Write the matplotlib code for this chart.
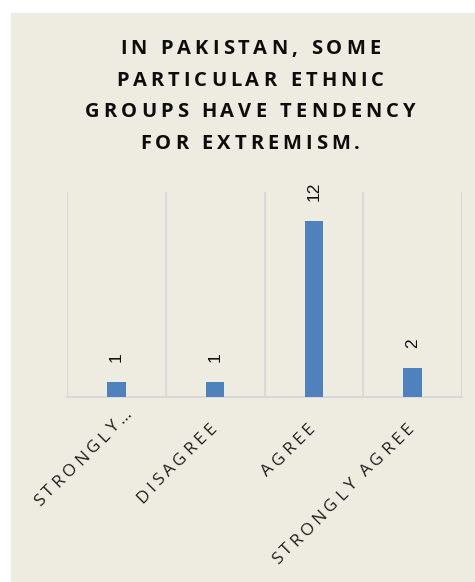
import matplotlib
matplotlib.use('Agg')
import matplotlib.pyplot as plt
from matplotlib.font_manager import FontProperties, findfont, get_font
from matplotlib.patches import Rectangle
from matplotlib.transforms import IdentityTransform
import numpy as np

# data
categories = ['STRONGLY\u2026', 'DISAGREE', 'AGREE', 'STRONGLY AGREE']
counts = [1, 1, 12, 2]
title_lines = ['IN PAKISTAN, SOME',
               'PARTICULAR ETHNIC',
               'GROUPS HAVE TENDENCY',
               'FOR EXTREMISM.']

W, H, DPI = 475, 582, 100
BG = '#EEEBE0'
BAR = '#4F81BD'
GRID = '#D9D9D9'

fig = plt.figure(figsize=(W / DPI, H / DPI), dpi=DPI, facecolor='white')
fig.patches.append(Rectangle((11 / W, 0), 1 - 11 / W, 1 - 13 / H,
                             transform=fig.transFigure, color=BG, zorder=-10))


def tracked(x, y, s, fp, size, track, angle=0.0, align='center', color='black'):
    # draw text letter by letter with extra spacing (display coords, y up)
    font = get_font(findfont(fp))
    font.set_size(size, DPI)
    adv = [font.load_char(ord(c)).linearHoriAdvance / 65536 for c in s]
    total = sum(adv) + track * (len(s) - 1)
    dx, dy = np.cos(np.radians(angle)), np.sin(np.radians(angle))
    back = total if align == 'right' else total / 2
    sx, sy = x - back * dx, y - back * dy
    pos = 0.0
    for c, a in zip(s, adv):
        fig.text(sx + pos * dx, sy + pos * dy, c, transform=IdentityTransform(),
                 fontproperties=fp, fontsize=size, rotation=angle,
                 rotation_mode='anchor', ha='left', va='baseline', color=color)
        pos += a + track


ax = fig.add_axes([67 / W, 1 - 397 / H, 395 / W, 205 / H])
ax.set_facecolor('none')
xs = np.arange(len(categories))
ax.bar(xs, counts, width=0.185, color=BAR, zorder=3)
ax.set_xlim(-0.5, len(categories) - 0.5)
ax.set_ylim(0, 14)
for b in np.arange(-0.5, len(categories)):
    ax.axvline(b, color=GRID, lw=1.5, zorder=1)
for sp in ['top', 'left', 'right']:
    ax.spines[sp].set_visible(False)
ax.spines['bottom'].set_color(GRID)
ax.spines['bottom'].set_linewidth(1.5)
ax.set_xticks([])
ax.set_yticks([])

for xi, v in zip(xs, counts):
    ax.annotate(str(v), (xi, v), xytext=(0, 14.5), textcoords='offset points',
                rotation=90, ha='center', va='bottom', fontsize=12.5,
                family='Liberation Sans', color='#111111')

# title
title_fp = FontProperties(family='Open Sans', weight='bold')
for i, line in enumerate(title_lines):
    tracked(250, H - (54 + 31.6 * i), line, title_fp, 14.5, 4.0,
            color='#0D0D0D')

# category labels, rotated 45 degrees
tick_fp = FontProperties(family='Open Sans')
fig.canvas.draw()
for xi, lab in zip(xs, categories):
    px, _ = ax.transData.transform((xi, 0))
    shift = 20 if lab.endswith('\u2026') else 0
    ex = px + 1.5 + shift * np.cos(np.radians(45))
    ey = H - 429 + shift * np.sin(np.radians(45))
    tracked(ex, ey, lab, tick_fp, 12.5, 3.6, angle=45, align='right',
            color='#1F1F1F')

fig.savefig('out.png', dpi=DPI, facecolor='white')
